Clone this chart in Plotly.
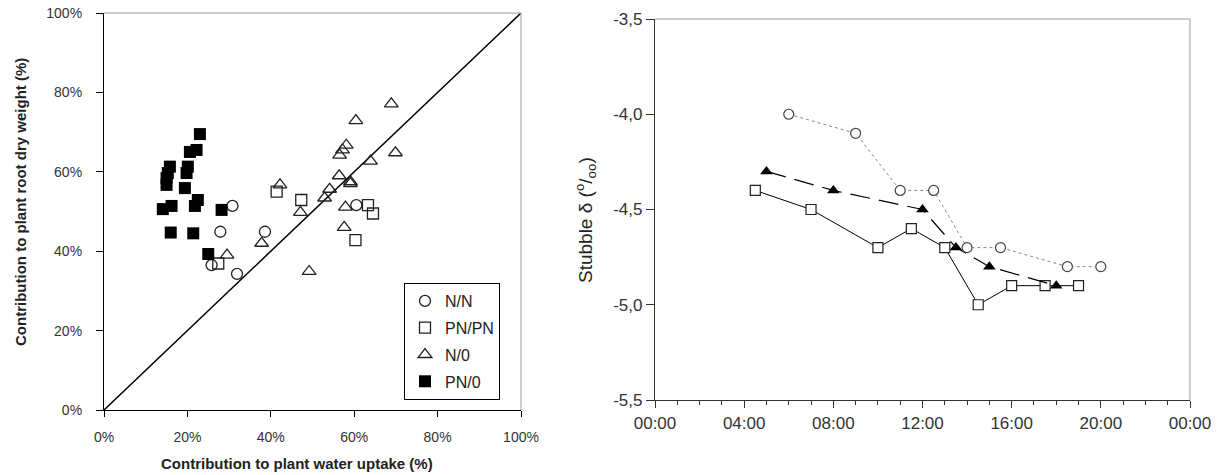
import plotly.graph_objects as go

# ---------------- Left panel data (% contribution) ----------------
nn_water = [30.8, 27.9, 38.6, 25.8, 31.9, 60.5]
nn_root = [51.4, 44.9, 44.9, 36.5, 34.3, 51.6]

pnpn_water = [41.4, 27.4, 47.3, 63.3, 64.5, 60.3]
pnpn_root = [55.0, 36.9, 52.9, 51.6, 49.5, 42.8]

n0_water = [42.2, 37.8, 29.5, 68.9, 60.4, 58.1, 57.2, 56.5, 69.9, 63.9,
            56.4, 59.1, 59.1, 54.1, 52.9, 57.9, 57.6, 47.1, 49.2]
n0_root = [56.7, 42.0, 39.0, 77.1, 72.9, 66.7, 65.5, 64.2, 64.8, 62.7,
           59.0, 57.5, 57.0, 55.6, 53.4, 51.1, 46.0, 49.8, 34.9]

pn0_water = [23.0, 22.2, 20.6, 15.8, 20.1, 15.3, 19.8, 15.0, 15.0, 19.4,
             22.5, 21.8, 16.2, 14.1, 28.2, 16.0, 21.4, 25.0]
pn0_root = [69.5, 65.5, 65.0, 61.3, 61.3, 59.7, 59.7, 58.4, 56.7, 55.9,
            52.9, 51.4, 51.4, 50.6, 50.4, 44.7, 44.5, 39.3]

one_to_one = [0, 100]
pct_tick_vals = [0, 20, 40, 60, 80, 100]
pct_tick_text = ["0%", "20%", "40%", "60%", "80%", "100%"]

# ---------------- Right panel data (stubble delta, per mil) ----------------
day = "2000-01-01 "
nn_time = ["06:00", "09:00", "11:00", "12:30", "14:00", "15:30", "18:30", "20:00"]
nn_delta = [-4.0, -4.1, -4.4, -4.4, -4.7, -4.7, -4.8, -4.8]

n0_time = ["05:00", "08:00", "12:00", "13:30", "15:00", "18:00"]
n0_delta = [-4.3, -4.4, -4.5, -4.7, -4.8, -4.9]

pnpn_time = ["04:30", "07:00", "10:00", "11:30", "13:00", "14:30", "16:00", "17:30", "19:00"]
pnpn_delta = [-4.4, -4.5, -4.7, -4.6, -4.7, -5.0, -4.9, -4.9, -4.9]

delta_tick_vals = [-5.5, -5.0, -4.5, -4.0, -3.5]
delta_tick_text = ["-5,5", "-5,0", "-4,5", "-4,0", "-3,5"]

FONT = "Liberation Sans, Arial, sans-serif"
INK = "#222222"

W, H = 1221, 475


def px(xp):
    return xp / W


def py(yp):
    return 1 - yp / H


fig = go.Figure()

# diagonal 1:1 line
fig.add_trace(go.Scatter(x=one_to_one, y=one_to_one, mode="lines",
                         line=dict(color="black", width=1.5),
                         showlegend=False, hoverinfo="skip", xaxis="x", yaxis="y"))

mk_line = dict(color=INK, width=1.3)
fig.add_trace(go.Scatter(x=nn_water, y=nn_root, mode="markers", name="N/N",
                         legendgroup="a",
                         marker=dict(symbol="circle-open", size=11, line=mk_line, color=INK),
                         xaxis="x", yaxis="y"))
fig.add_trace(go.Scatter(x=pnpn_water, y=pnpn_root, mode="markers", name="PN/PN",
                         legendgroup="b",
                         marker=dict(symbol="square-open", size=11, line=mk_line, color=INK),
                         xaxis="x", yaxis="y"))
fig.add_trace(go.Scatter(x=n0_water, y=n0_root, mode="markers", name="N/0",
                         legendgroup="c",
                         marker=dict(symbol="triangle-up-open", size=12, line=mk_line, color=INK),
                         xaxis="x", yaxis="y"))
fig.add_trace(go.Scatter(x=pn0_water, y=pn0_root, mode="markers", name="PN/0",
                         legendgroup="d",
                         marker=dict(symbol="square", size=12, color="black",
                                     line=dict(color="black", width=0)),
                         xaxis="x", yaxis="y"))

# right panel
fig.add_trace(go.Scatter(x=[day + t for t in pnpn_time], y=pnpn_delta, mode="lines+markers",
                         line=dict(color="black", width=1),
                         marker=dict(symbol="square", size=10, color="white",
                                     line=dict(color=INK, width=1.2)),
                         showlegend=False, xaxis="x2", yaxis="y2"))
fig.add_trace(go.Scatter(x=[day + t for t in n0_time], y=n0_delta, mode="lines+markers",
                         line=dict(color="black", width=1.2, dash="20px,9px"),
                         marker=dict(symbol="triangle-up", size=11, color="black"),
                         showlegend=False, xaxis="x2", yaxis="y2"))
fig.add_trace(go.Scatter(x=[day + t for t in nn_time], y=nn_delta, mode="lines+markers",
                         line=dict(color="#888888", width=1, dash="dot"),
                         marker=dict(symbol="circle", size=10, color="white",
                                     line=dict(color="#444444", width=1.2)),
                         showlegend=False, xaxis="x2", yaxis="y2"))

fig.update_layout(
    width=W, height=H,
    margin=dict(l=0, r=0, t=0, b=0),
    paper_bgcolor="white", plot_bgcolor="white",
    font=dict(family=FONT, color=INK),
    xaxis=dict(domain=[px(104), px(521)], range=[0, 100],
               tickmode="array", tickvals=pct_tick_vals, ticktext=pct_tick_text,
               showgrid=False, zeroline=False, automargin=False,
               ticklabeloverflow="allow", ticklabelstandoff=8,
               showline=True, linecolor="black", linewidth=1.2,
               ticks="outside", ticklen=6, tickcolor="black",
               tickfont=dict(size=14, color="#333"), anchor="y"),
    yaxis=dict(domain=[py(410), py(13)], range=[0, 100],
               tickmode="array", tickvals=pct_tick_vals, ticktext=pct_tick_text,
               showgrid=False, zeroline=False, automargin=False,
               ticklabeloverflow="allow", ticklabelstandoff=11,
               showline=True, linecolor="black", linewidth=1.2,
               ticks="outside", ticklen=7, tickcolor="black",
               tickfont=dict(size=14, color="#333"), anchor="x"),
    xaxis2=dict(domain=[px(655), px(1190)], type="date",
                range=["2000-01-01 00:00", "2000-01-02 00:00"],
                tick0="2000-01-01 00:00", dtick=4 * 3600 * 1000, tickformat="%H:%M",
                showgrid=False, zeroline=False, automargin=False,
                ticklabeloverflow="allow",
                showline=True, linecolor="#333", linewidth=1.2,
                ticks="outside", ticklen=7, tickcolor="#333",
                minor=dict(dtick=3600 * 1000, ticks="outside", ticklen=4, tickcolor="#333"),
                tickfont=dict(size=17, color="#333"), anchor="y2"),
    yaxis2=dict(domain=[py(400), py(19)], range=[-5.5, -3.5],
                tickmode="array", tickvals=delta_tick_vals, ticktext=delta_tick_text,
                showgrid=False, zeroline=False, automargin=False,
                ticklabeloverflow="allow",
                showline=True, linecolor="#333", linewidth=1.2,
                ticks="outside", ticklen=8, tickcolor="#333",
                tickfont=dict(size=17, color="#333"), anchor="x2"),
    legend=dict(x=px(404), y=py(283), xanchor="left", yanchor="top",
                bordercolor="black", borderwidth=1, bgcolor="white",
                font=dict(size=16, color=INK), traceorder="grouped",
                tracegroupgap=3, itemwidth=30),
    shapes=[
        dict(type="line", xref="x domain", yref="y domain", x0=0, x1=1, y0=1, y1=1,
             line=dict(color="#999999", width=1)),
        dict(type="line", xref="x domain", yref="y domain", x0=1, x1=1, y0=0, y1=1,
             line=dict(color="#999999", width=1)),
        dict(type="line", xref="x2 domain", yref="y2 domain", x0=0, x1=1, y0=1, y1=1,
             line=dict(color="#999999", width=1)),
        dict(type="line", xref="x2 domain", yref="y2 domain", x0=1, x1=1, y0=0, y1=1,
             line=dict(color="#999999", width=1)),
    ],
    annotations=[
        dict(text="<b>Contribution to plant water uptake (%)</b>", xref="paper", yref="paper",
             x=px(297), y=py(463), showarrow=False, font=dict(size=15, color=INK),
             xanchor="center", yanchor="middle"),
        dict(text="<b>Contribution to plant root dry weight (%)</b>", xref="paper", yref="paper",
             x=px(21), y=py(202), showarrow=False, textangle=-90,
             font=dict(size=15, color=INK), xanchor="center", yanchor="middle"),
        dict(text="Stubble δ (<sup>o</sup>/<sub>oo</sub>)", xref="paper", yref="paper",
             x=px(585), y=py(220), showarrow=False, textangle=-90,
             font=dict(size=19, color=INK), xanchor="center", yanchor="middle"),
    ],
)

# remove the default 8px page margin so the figure fills the 1221x475 window exactly
fig.write_html("out.html",
               config={"displayModeBar": False},
               post_script="document.body.style.margin='0';document.body.style.overflow='hidden';")
